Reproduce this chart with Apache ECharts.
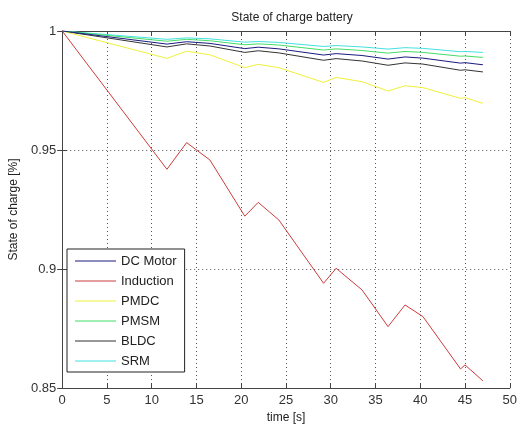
<!DOCTYPE html>
<html>
<head>
<meta charset="utf-8">
<script src="https://cdn.jsdelivr.net/npm/echarts@6/dist/echarts.min.js"></script>
<style>html,body{margin:0;padding:0;background:#fff;}#c{width:520px;height:429px;}</style>
</head>
<body>
<div id="c"></div>
<script>
var time = [0, 11.7, 13.9, 16.5, 20.4, 21.9, 24.2, 29.2, 30.6, 33.5, 36.4, 38.3, 40.3, 44.5, 45.0, 47];
var dcMotor   = [1, 0.9945, 0.9955, 0.9948, 0.9926, 0.9932, 0.9925, 0.9899, 0.9905, 0.9897, 0.9882, 0.9891, 0.9886, 0.9865, 0.9867, 0.9858];
var induction = [1, 0.9419, 0.9531, 0.9458, 0.9222, 0.9280, 0.9206, 0.8940, 0.9003, 0.8912, 0.8758, 0.8849, 0.8800, 0.8580, 0.8597, 0.8530];
var pmdc      = [1, 0.9885, 0.9915, 0.9900, 0.9846, 0.9860, 0.9846, 0.9784, 0.9805, 0.9787, 0.9748, 0.9770, 0.9762, 0.9717, 0.9720, 0.9696];
var pmsm      = [1, 0.9957, 0.9965, 0.9959, 0.9942, 0.9946, 0.9941, 0.9920, 0.9925, 0.9918, 0.9907, 0.9914, 0.9910, 0.9894, 0.9895, 0.9889];
var bldc      = [1, 0.9933, 0.9946, 0.9937, 0.9910, 0.9917, 0.9908, 0.9877, 0.9884, 0.9874, 0.9856, 0.9866, 0.9861, 0.9835, 0.9837, 0.9828];
var srm       = [1, 0.9965, 0.9971, 0.9967, 0.9953, 0.9956, 0.9952, 0.9935, 0.9939, 0.9933, 0.9924, 0.9930, 0.9927, 0.9913, 0.9914, 0.9910];
var names = ['DC Motor', 'Induction', 'PMDC', 'PMSM', 'BLDC', 'SRM'];
var colors = ['#1a1a80', '#cc3c3c', '#f0f03a', '#44dd66', '#333333', '#44e0e0'];
var seriesData = [dcMotor, induction, pmdc, pmsm, bldc, srm];
var xTicks = [0, 5, 10, 15, 20, 25, 30, 35, 40, 45, 50];
var yTicks = [0.85, 0.9, 0.95, 1];

var font = 'Liberation Sans, Arial, sans-serif';
var chart = echarts.init(document.getElementById('c'), null, {renderer: 'canvas'});
var tickStyle = {show: true, inside: true, length: 5, lineStyle: {color: '#444'}};
var axisLine = {show: true, lineStyle: {color: '#444', width: 1}};
var splitLine = {show: true, lineStyle: {color: '#555', type: [1, 3], width: 1}};

chart.setOption({
  animation: false,
  backgroundColor: '#fff',
  title: {
    text: 'State of charge battery', left: 287, top: 7, textAlign: 'center',
    textStyle: {fontFamily: font, fontSize: 12, fontWeight: 'normal', color: '#222'}
  },
  legend: {
    orient: 'vertical', left: 67, top: 249,
    padding: [5, 8, 4, 8], itemWidth: 41, itemHeight: 1, itemGap: 6,
    icon: 'rect',
    borderColor: '#222', borderWidth: 1, backgroundColor: '#fff',
    textStyle: {fontFamily: font, fontSize: 13, lineHeight: 14, color: '#222', padding: [0, 0, 0, 0]},
    data: names
  },
  grid: {left: 60, right: 5, top: 31, bottom: 41, containLabel: false},
  xAxis: [{
    type: 'value', min: 0, max: 50, interval: 5,
    name: 'time [s]', nameLocation: 'middle', nameGap: 21,
    nameTextStyle: {fontFamily: font, fontSize: 12, color: '#222'},
    axisLine: axisLine, axisTick: tickStyle, splitLine: splitLine,
    axisLabel: {fontFamily: font, fontSize: 13, color: '#333', margin: 6,
      customValues: xTicks, formatter: function(v){return String(v);}}
  }, {
    type: 'value', min: 0, max: 50, interval: 5, position: 'top',
    axisLine: axisLine, axisTick: tickStyle, splitLine: {show: false}, axisLabel: {show: false}
  }],
  yAxis: [{
    type: 'value', min: 0.85, max: 1, interval: 0.05,
    name: 'State of charge [%]', nameLocation: 'middle', nameGap: 33,
    nameTextStyle: {fontFamily: font, fontSize: 12, color: '#222'},
    axisLine: axisLine, axisTick: tickStyle, splitLine: splitLine,
    axisLabel: {fontFamily: font, fontSize: 13, color: '#333', margin: 6,
      formatter: function(v){return String(parseFloat(v.toFixed(2)));}}
  }, {
    type: 'value', min: 0.85, max: 1, interval: 0.05, position: 'right',
    axisLine: axisLine, axisTick: tickStyle, splitLine: {show: false}, axisLabel: {show: false}
  }],
  series: names.map(function(n, i){
    return {
      name: n, type: 'line', symbol: 'none', showSymbol: false,
      color: colors[i],
      lineStyle: {width: 1, color: colors[i]},
      data: time.map(function(t, k){ return [t, seriesData[i][k]]; }),
      z: 10 - i
    };
  })
});
</script>
</body>
</html>
